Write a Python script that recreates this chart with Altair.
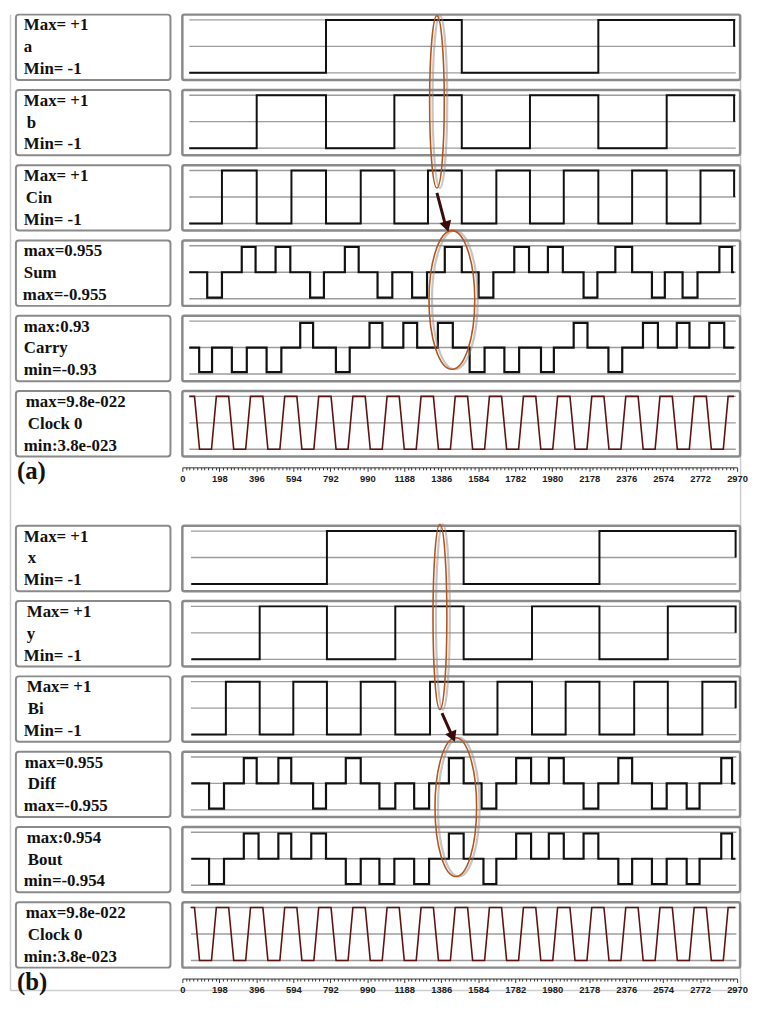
import altair as alt
import pandas as pd

# ---------------- data ----------------
AXIS_MAX = 2970
MAJOR = 198
MINOR = 19.8

# (a) full adder inputs: slot edges (time units) and logic levels per slot
edges_a = [37, 212, 398, 584, 769, 955, 1135, 1315, 1496, 1681, 1861, 2042, 2227, 2408, 2593, 2774, 2954]
a_lv = [-1, -1, -1, -1, 1, 1, 1, 1, -1, -1, -1, -1, 1, 1, 1, 1]
b_lv = [-1, -1, 1, 1, -1, -1, 1, 1, -1, -1, 1, 1, -1, -1, 1, 1]
cin_lv = [-1, 1, -1, 1, -1, 1, -1, 1, -1, 1, -1, 1, -1, 1, -1, 1]

sum_start = [133, 318, 499, 684, 870, 1045, 1230, 1405, 1586, 1777, 1957, 2148, 2318, 2514, 2678, 2875]
sum_end = [212, 392, 578, 758, 944, 1124, 1310, 1496, 1665, 1856, 2037, 2222, 2408, 2583, 2758, 2943]
sum_lv = [-1, 1, 1, -1, 1, -1, -1, 1, -1, 1, 1, -1, 1, -1, -1, 1]
sum_amp = 0.955

carry_start = [90, 265, 451, 631, 822, 1002, 1183, 1368, 1538, 1724, 1920, 2095, 2281, 2466, 2647, 2821]
carry_end = [159, 345, 530, 700, 896, 1071, 1257, 1448, 1618, 1803, 1989, 2169, 2355, 2546, 2715, 2901]
carry_lv = [-1, -1, -1, 1, -1, 1, 1, 1, -1, -1, -1, 1, -1, 1, 1, 1]
carry_amp = 0.93

# (b) full subtractor
edges_b = [48, 233, 414, 594, 774, 955, 1140, 1326, 1506, 1687, 1872, 2052, 2233, 2419, 2599, 2784, 2962]
x_lv = [-1, -1, -1, -1, 1, 1, 1, 1, -1, -1, -1, -1, 1, 1, 1, 1]
y_lv = [-1, -1, 1, 1, -1, -1, 1, 1, -1, -1, 1, 1, -1, -1, 1, 1]
bi_lv = [-1, 1, -1, 1, -1, 1, -1, 1, -1, 1, -1, 1, -1, 1, -1, 1]

diff_start = [143, 329, 514, 700, 875, 1055, 1241, 1427, 1602, 1787, 1962, 2148, 2334, 2514, 2700, 2885]
diff_end = [223, 398, 583, 769, 955, 1140, 1321, 1506, 1681, 1867, 2042, 2227, 2408, 2593, 2769, 2943]
diff_lv = [-1, 1, 1, -1, 1, -1, -1, 1, -1, 1, 1, -1, 1, -1, -1, 1]
diff_amp = 0.955

bout_start = [143, 329, 514, 690, 875, 1055, 1241, 1427, 1612, 1787, 1962, 2148, 2334, 2514, 2700, 2885]
bout_end = [223, 408, 583, 769, 955, 1135, 1321, 1506, 1681, 1867, 2042, 2227, 2408, 2593, 2769, 2943]
bout_lv = [-1, 1, 1, 1, -1, -1, -1, 1, -1, 1, 1, 1, -1, -1, -1, 1]
bout_amp = 0.954

# clock: times where each rising ramp reaches the top, plus ramp / flat durations
clock_rise_end = [182, 365, 548, 730, 913, 1096, 1278, 1461, 1644, 1826, 2009, 2192, 2374, 2557, 2740, 2922]
clk_rise, clk_low, clk_fall = 26, 64, 27
clock_t0_a, clock_t1_a = 37, 2954
clock_t0_b, clock_t1_b = 44, 2960

guide_levels = [-1, 0, 1]
guide_span_a = (37, 2963)
guide_span_b = (46, 2966)

labels_a = [["Max= +1", "a", "Min= -1"], ["Max= +1", "b", "Min= -1"], ["Max= +1", "Cin", "Min= -1"],
            ["max=0.955", "Sum", "max=-0.955"], ["max:0.93", "Carry", "min=-0.93"],
            ["max=9.8e-022", "Clock 0", "min:3.8e-023"]]
labels_b = [["Max= +1", "x", "Min= -1"], ["Max= +1", "y", "Min= -1"], ["Max= +1", "Bi", "Min= -1"],
            ["max=0.955", "Diff", "max=-0.955"], ["max:0.954", "Bout", "min=-0.954"],
            ["max=9.8e-022", "Clock 0", "min:3.8e-023"]]
labels_a_x = [[8, 8, 8], [8, 11, 8], [8, 10, 8], [8, 8, 7], [8, 8, 8], [10, 12, 8]]
labels_b_x = [[8, 12, 8], [11, 11, 8], [11, 12, 8], [9, 12, 8], [11, 12, 8], [10, 12, 8]]
section_tags = ["(a)", "(b)"]

# annotations: ellipse centres (time units), arrows
ell_a_t = [1363, 1443]
ell_a_y = [-368, -168]
ell_a_h = [174, 140]
ell_a_r = [0.085, 0.33]
arrow_a_t = [1363, 1405, 1416]
arrow_a_y = [-276, -246, -242]
arrow_a_angle = 343

ell_b_t = [1379, 1464]
ell_b_y = [-364, -172]
ell_b_h = [187, 140]
ell_b_r = [0.075, 0.3]
arrow_b_t = [1390, 1437, 1448]
arrow_b_y = [-267, -247, -243]
arrow_b_angle = 337

# ---------------- layout / style ----------------
LABEL_W = 156
WAVE_W = 563
AXIS_W = 560
ROW_H = 66
GAP_H = 39
LINE_Y = [16, 38, 60]
BOX = "#8a8a8a"
FRAME = "#cdcdcd"

xs_wave = alt.Scale(domain=[0, AXIS_MAX * WAVE_W / AXIS_W], nice=False, zero=False)
xs_axis = alt.Scale(domain=[0, AXIS_MAX], nice=False, zero=False)
ys = alt.Scale(domain=[-1.27, 1.2], nice=False, zero=False)


def step_frame(edges, levels):
    rows = []
    for k, lv in enumerate(levels):
        rows.append((edges[k], lv))
        rows.append((edges[k + 1], lv))
    rows.append((edges[-1], 0))
    return pd.DataFrame({"i": range(len(rows)), "t": [r[0] for r in rows], "v": [r[1] for r in rows]})


def pulse_frame(t0, t1, starts, ends, levels, amp):
    rows = [(t0, 0)]
    for s, e, lv in zip(starts, ends, levels):
        rows += [(s, 0), (s, lv * amp), (e, lv * amp), (e, 0)]
    rows.append((t1, 0))
    return pd.DataFrame({"i": range(len(rows)), "t": [r[0] for r in rows], "v": [r[1] for r in rows]})


def clock_frame(t0, t1):
    rows = [(t0, 1)]
    for r in clock_rise_end:
        rows += [(r - clk_rise - clk_low - clk_fall, 1), (r - clk_rise - clk_low, -1), (r - clk_rise, -1), (r, 1)]
    rows.append((t1, 1))
    return pd.DataFrame({"i": range(len(rows)), "t": [r[0] for r in rows], "v": [r[1] for r in rows]})


def wave_chart(df, span, color="#111111", sw=2.0):
    guides = pd.DataFrame({"lvl": guide_levels, "t0": [span[0]] * 3, "t1": [span[1]] * 3})
    g = alt.Chart(guides).mark_rule(color="#9c9c9c", strokeWidth=1.4).encode(
        x=alt.X("t0:Q", scale=xs_wave, axis=None), x2="t1:Q",
        y=alt.Y("lvl:Q", scale=ys, axis=None))
    ln = alt.Chart(df).mark_line(color=color, strokeWidth=sw).encode(
        x=alt.X("t:Q", scale=xs_wave, axis=None),
        y=alt.Y("v:Q", scale=ys, axis=None),
        order="i:Q")
    return alt.layer(g, ln).properties(
        width=WAVE_W, height=ROW_H,
        view=alt.ViewBackground(stroke=BOX, strokeWidth=2.5, cornerRadius=2))


def label_chart(lines, xoffs, frame=False):
    df = pd.DataFrame({"txt": lines, "xo": xoffs, "yo": LINE_Y})
    txt = alt.Chart(df).mark_text(font="Liberation Serif", fontWeight="bold", fontSize=17,
                                  align="left", baseline="alphabetic", color="#111111").encode(
        x=alt.X("xo:Q", scale=None, axis=None),
        y=alt.Y("yo:Q", scale=None, axis=None),
        text="txt:N")
    layers = [txt]
    if frame:
        one = pd.DataFrame({"k": [0]})
        layers.append(alt.Chart(one).mark_rule(color=FRAME, strokeWidth=1.5).encode(
            x=alt.value(-5.5), y=alt.value(0), y2=alt.value(985)))
        layers.append(alt.Chart(one).mark_rule(color=FRAME, strokeWidth=1.5).encode(
            x=alt.value(731.5), y=alt.value(0), y2=alt.value(985)))
        layers.append(alt.Chart(one).mark_rule(color=FRAME, strokeWidth=1.5).encode(
            x=alt.value(-5.5), x2=alt.value(731.5), y=alt.value(985)))
    return alt.layer(*layers).properties(
        width=LABEL_W, height=ROW_H,
        view=alt.ViewBackground(stroke=BOX, strokeWidth=2, cornerRadius=3))


def ellipse_path(a):
    k = 0.5523
    return (f"M 0 -1 C {k*a:.4f} -1 {a:.4f} {-k:.4f} {a:.4f} 0 "
            f"C {a:.4f} {k:.4f} {k*a:.4f} 1 0 1 "
            f"C {-k*a:.4f} 1 {-a:.4f} {k:.4f} {-a:.4f} 0 "
            f"C {-a:.4f} {-k:.4f} {-k*a:.4f} -1 0 -1 Z")


tick_vals = [round(MINOR * k, 2) for k in range(int(AXIS_MAX / MINOR) + 1)]
axis_obj = alt.Axis(
    values=tick_vals, format="d", title=None, grid=False,
    labelExpr="datum.value % 198 === 0 ? datum.label : ''",
    labelOverlap=False, labelFlush=False, labelBound=False,
    labelFont="Liberation Sans", labelFontSize=9.5, labelFontWeight="bold",
    labelColor="#1a1a1a", labelPadding=2,
    tickColor="#333333", tickWidth=1,
    tickSize={"condition": {"test": "datum.value % 198 === 0", "value": 4}, "value": 2.5},
    domainColor="#333333", domainWidth=1)


def axis_chart(ell_t, ell_y, ell_h, ell_r, arr_t, arr_y, arr_angle):
    x_enc = alt.X("t:Q", scale=xs_axis, axis=axis_obj)
    layers = []
    for t, yc, h, r in zip(ell_t, ell_y, ell_h, ell_r):
        d = pd.DataFrame({"t": [t]})
        path = ellipse_path(r)
        layers.append(alt.Chart(d).mark_point(shape=path, size=h * h, filled=False, color="#8c8c8c",
                                              strokeWidth=2.2, strokeJoin="round", opacity=0.5,
                                              xOffset=3).encode(x=x_enc, y=alt.value(yc)))
        layers.append(alt.Chart(d).mark_point(shape=path, size=h * h, filled=False, color="#b5561d",
                                              strokeWidth=1.6, strokeJoin="round", opacity=1).encode(
            x=x_enc, y=alt.value(yc)))
    ad = pd.DataFrame({"t": [arr_t[0]], "t2": [arr_t[1]]})
    layers.append(alt.Chart(ad).mark_rule(color="#3b0b0b", strokeWidth=3).encode(
        x=x_enc, x2="t2:Q", y=alt.value(arr_y[0]), y2=alt.value(arr_y[1])))
    hd = pd.DataFrame({"t": [arr_t[2]]})
    layers.append(alt.Chart(hd).mark_point(shape="triangle-down", filled=True, size=150,
                                           angle=arr_angle, color="#3b0b0b", opacity=1).encode(
        x=x_enc, y=alt.value(arr_y[2])))
    return alt.layer(*layers).properties(width=AXIS_W, height=1,
                                         view=alt.ViewBackground(stroke="transparent"))


def tag_chart(tag):
    return alt.Chart(pd.DataFrame({"txt": [tag]})).mark_text(
        font="Liberation Serif", fontWeight="bold", fontSize=25, align="left",
        baseline="alphabetic", color="#111111").encode(
        x=alt.value(1), y=alt.value(13), text="txt:N").properties(
        width=LABEL_W, height=1, view=alt.ViewBackground(stroke="transparent"))


def spacer(w):
    return alt.Chart(pd.DataFrame({"k": [0]})).mark_point(opacity=0).encode(
        x=alt.value(0), y=alt.value(0)).properties(
        width=w, height=GAP_H, view=alt.ViewBackground(stroke="transparent"))


# ---------------- build ----------------
waves_a = [
    (step_frame(edges_a, a_lv), "#111111", 2.0),
    (step_frame(edges_a, b_lv), "#111111", 2.0),
    (step_frame(edges_a, cin_lv), "#111111", 2.0),
    (pulse_frame(37, 2954, sum_start, sum_end, sum_lv, sum_amp), "#111111", 2.2),
    (pulse_frame(37, 2954, carry_start, carry_end, carry_lv, carry_amp), "#111111", 2.2),
    (clock_frame(clock_t0_a, clock_t1_a), "#5e1212", 1.6),
]
waves_b = [
    (step_frame(edges_b, x_lv), "#111111", 2.0),
    (step_frame(edges_b, y_lv), "#111111", 2.0),
    (step_frame(edges_b, bi_lv), "#111111", 2.0),
    (pulse_frame(48, 2960, diff_start, diff_end, diff_lv, diff_amp), "#111111", 2.2),
    (pulse_frame(48, 2960, bout_start, bout_end, bout_lv, bout_amp), "#111111", 2.2),
    (clock_frame(clock_t0_b, clock_t1_b), "#5e1212", 1.6),
]

cells = []
for k in range(6):
    df, col, sw = waves_a[k]
    cells.append(label_chart(labels_a[k], labels_a_x[k], frame=(k == 0)))
    cells.append(wave_chart(df, guide_span_a, col, sw))
cells.append(tag_chart(section_tags[0]))
cells.append(axis_chart(ell_a_t, ell_a_y, ell_a_h, ell_a_r, arrow_a_t, arrow_a_y, arrow_a_angle))
cells.append(spacer(LABEL_W))
cells.append(spacer(AXIS_W))
for k in range(6):
    df, col, sw = waves_b[k]
    cells.append(label_chart(labels_b[k], labels_b_x[k]))
    cells.append(wave_chart(df, guide_span_b, col, sw))
cells.append(tag_chart(section_tags[1]))
cells.append(axis_chart(ell_b_t, ell_b_y, ell_b_h, ell_b_r, arrow_b_t, arrow_b_y, arrow_b_angle))

chart = alt.concat(*cells, columns=2, spacing={"row": 10, "column": 12}, bounds="flush").properties(
    padding=0, background="white"
).configure_view(stroke="transparent")

chart.save("out.html", embed_options={"renderer": "svg", "actions": False})
